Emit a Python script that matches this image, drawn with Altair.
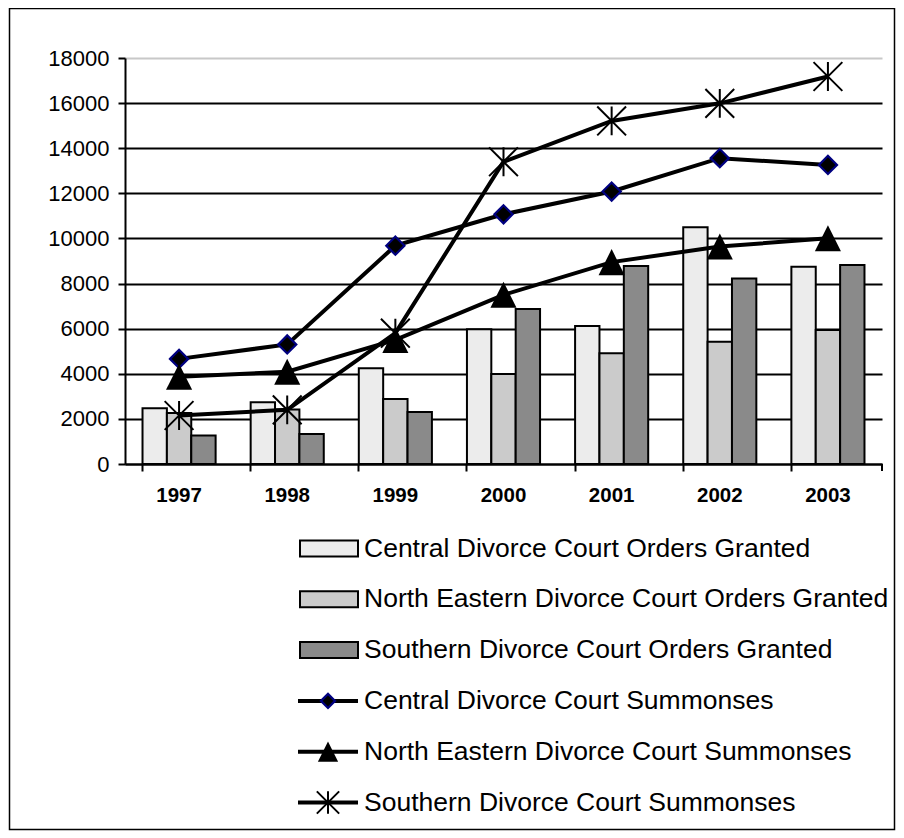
import altair as alt
import pandas as pd

years = ["1997", "1998", "1999", "2000", "2001", "2002", "2003"]

central_orders = [2470, 2740, 4240, 5970, 6120, 10500, 8750]
ne_orders = [2260, 2420, 2880, 3990, 4910, 5420, 5940]
southern_orders = [1260, 1330, 2300, 6870, 8780, 8220, 8820]

central_summ = [4660, 5300, 9680, 11070, 12080, 13560, 13260]
ne_summ = [3870, 4090, 5500, 7500, 8950, 9640, 10010]
southern_summ = [2150, 2400, 5800, 13400, 15210, 15990, 17180]

bar_series = [
    "Central Divorce Court Orders Granted",
    "North Eastern Divorce Court Orders Granted",
    "Southern Divorce Court Orders Granted",
]
line_series = [
    "Central Divorce Court Summonses",
    "North Eastern Divorce Court Summonses",
    "Southern Divorce Court Summonses",
]
y_ticks = [0, 2000, 4000, 6000, 8000, 10000, 12000, 14000, 16000, 18000]

bar_fills = ["#ececec", "#cbcbcb", "#8a8a8a"]

FONT = "Liberation Sans"

bar_df = pd.DataFrame(
    [
        {"year": y, "series": s, "value": v}
        for s, vals in zip(bar_series, [central_orders, ne_orders, southern_orders])
        for y, v in zip(years, vals)
    ]
)
line_df = pd.DataFrame(
    [
        {"year": y, "series": s, "value": v}
        for s, vals in zip(line_series, [central_summ, ne_summ, southern_summ])
        for y, v in zip(years, vals)
    ]
)
legend_df = pd.DataFrame(
    {
        "label": bar_series + line_series,
        "idx": list(range(6)),
        "kind": ["bar"] * 3 + ["line"] * 3,
    }
)
one = pd.DataFrame({"a": [0]})

W, H = 757, 406

fill_scale = alt.Scale(domain=bar_series, range=bar_fills)

x_enc = alt.X(
    "year:N",
    sort=years,
    title=None,
    scale=alt.Scale(paddingInner=0.324, paddingOuter=0.162),
    axis=alt.Axis(
        labelAngle=0,
        labelFont=FONT,
        labelFontSize=20.5,
        labelFontWeight="bold",
        labelColor="black",
        labelPadding=14,
        tickSize=7,
        tickWidth=2,
        tickColor="black",
        domainColor="black",
        domainWidth=2,
        bandPosition=0,
        grid=False,
    ),
)
y_enc = alt.Y(
    "value:Q",
    title=None,
    scale=alt.Scale(domain=[0, 18000], nice=False),
    axis=alt.Axis(
        values=y_ticks,
        format="d",
        labelFont=FONT,
        labelFontSize=22,
        labelColor="black",
        labelPadding=9,
        tickSize=7,
        tickWidth=2,
        tickColor="black",
        domainColor="black",
        domainWidth=2,
        grid=True,
        gridColor={"condition": {"test": "datum.value === 18000", "value": "#c8c8c8"}, "value": "black"},
        gridWidth=2,
    ),
)

bars = alt.Chart(bar_df).mark_bar(stroke="black", strokeWidth=2).encode(
    x=x_enc,
    xOffset=alt.XOffset("series:N", sort=bar_series, scale=alt.Scale(paddingInner=0, paddingOuter=0)),
    y=y_enc,
    fill=alt.Fill("series:N", scale=fill_scale, legend=None),
)

lines = alt.Chart(line_df).mark_line(color="black", strokeWidth=4).encode(
    x=alt.X("year:N", sort=years),
    y=alt.Y("value:Q"),
    detail="series:N",
)

TRI = "M0,-1L1,1L-1,1Z"
STAR = "M0,-1V1M-1,-1L1,1M-1,1L1,-1"


def marker_mark(series_idx, scale):
    if series_idx == 0:
        return dict(shape="diamond", filled=True, color="black", stroke="#000080",
                    strokeWidth=2.2, opacity=1, size=int(330 * scale))
    if series_idx == 1:
        return dict(shape=TRI, filled=True, color="black", opacity=1, size=int(680 * scale))
    return dict(shape=STAR, filled=False, color="black", strokeWidth=2, opacity=1, size=int(830 * scale))


point_layers = []
for i, s in enumerate(line_series):
    point_layers.append(
        alt.Chart(line_df).transform_filter(alt.datum.series == s).mark_point(**marker_mark(i, 1.0)).encode(
            x=alt.X("year:N", sort=years),
            y=alt.Y("value:Q"),
        )
    )

# legend (drawn below the plot area)
leg_base = alt.Chart(legend_df).transform_calculate(
    ly="490.5 + datum.idx * 50.8", ly0="490.5 + datum.idx * 50.8 - 8", ly1="490.5 + datum.idx * 50.8 + 8"
)
leg_rects = leg_base.transform_filter(alt.datum.kind == "bar").mark_rect(stroke="black", strokeWidth=2).encode(
    x=alt.value(175),
    x2=alt.value(233),
    y=alt.Y("ly0:Q", scale=None, axis=None),
    y2=alt.Y2("ly1:Q"),
    fill=alt.Fill("label:N", scale=fill_scale, legend=None),
)
leg_rules = leg_base.transform_filter(alt.datum.kind == "line").mark_rule(color="black", strokeWidth=4).encode(
    x=alt.value(173),
    x2=alt.value(233),
    y=alt.Y("ly:Q", scale=None, axis=None),
)
leg_points = []
for i, s in enumerate(line_series):
    leg_points.append(
        leg_base.transform_filter(alt.datum.label == s).mark_point(**marker_mark(i, 0.6)).encode(
            x=alt.value(203),
            y=alt.Y("ly:Q", scale=None, axis=None),
        )
    )
leg_text = leg_base.mark_text(align="left", baseline="middle", font=FONT, fontSize=26.5, color="black").encode(
    x=alt.value(239),
    y=alt.Y("ly:Q", scale=None, axis=None),
    text="label:N",
)

end_tick = alt.Chart(one).mark_rule(color="black", strokeWidth=2).encode(
    x=alt.value(W), y=alt.value(H), y2=alt.value(H + 7)
)
border = alt.Chart(one).mark_rect(fill="transparent", stroke="black", strokeWidth=1.5).encode(
    x=alt.value(-115.5), x2=alt.value(769.5), y=alt.value(-49.5), y2=alt.value(771.5)
)

chart = alt.layer(
    border, bars, lines, *point_layers, end_tick, leg_rects, leg_rules, *leg_points, leg_text
).properties(
    width=W,
    height=H,
    autosize=alt.AutoSizeParams(type="none"),
    padding={"left": 117, "top": 50, "right": 14, "bottom": 367},
    background="white",
).configure_view(stroke="transparent")

chart.save("out.html", embed_options={"renderer": "svg", "actions": False})
